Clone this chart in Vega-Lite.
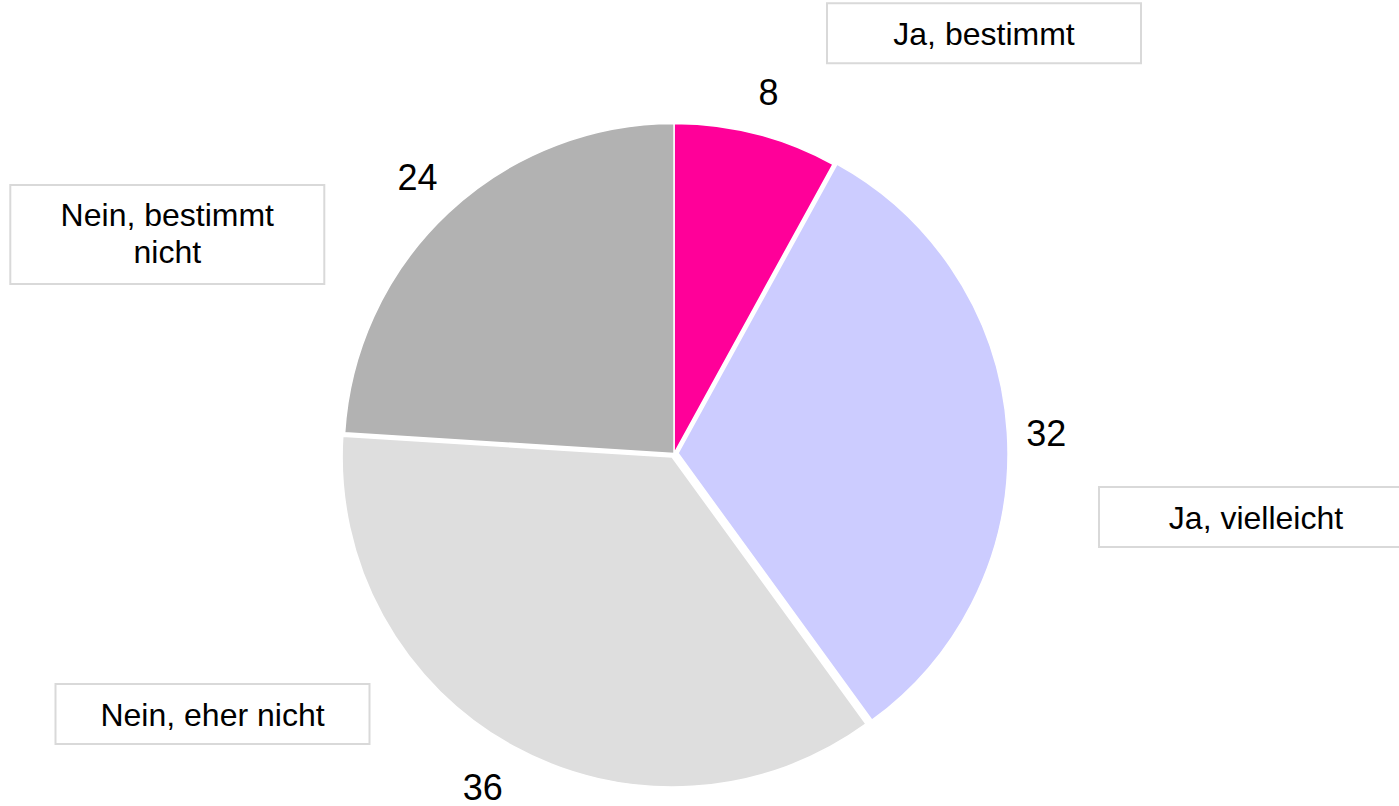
{
  "$schema": "https://vega.github.io/schema/vega-lite/v6.json",
  "width": 1399,
  "height": 806,
  "autosize": {"type": "none"},
  "padding": 0,
  "background": "white",
  "config": {"view": {"stroke": null}, "font": "Liberation Sans"},
  "data": {
    "values": [
      {"Nr": 1, "Antwort": "Ja, bestimmt", "Anteil": 8, "Beschriftung": "Ja, bestimmt"},
      {"Nr": 2, "Antwort": "Ja, vielleicht", "Anteil": 32, "Beschriftung": "Ja, vielleicht"},
      {"Nr": 3, "Antwort": "Nein, eher nicht", "Anteil": 36, "Beschriftung": "Nein, eher nicht"},
      {"Nr": 4, "Antwort": "Nein, bestimmt nicht", "Anteil": 24, "Beschriftung": "Nein, bestimmt\nnicht"}
    ]
  },
  "layer": [
    {
      "transform": [
        {"stack": "Anteil", "groupby": [], "sort": [{"field": "Nr", "order": "ascending"}], "as": ["t0", "t1"]}
      ],
      "encoding": {
        "theta": {"field": "t0", "type": "quantitative", "stack": null, "scale": {"domain": [0, 100]}},
        "theta2": {"field": "t1"},
        "color": {
          "field": "Antwort",
          "type": "nominal",
          "scale": {
            "domain": ["Ja, bestimmt", "Ja, vielleicht", "Nein, eher nicht", "Nein, bestimmt nicht"],
            "range": ["#FF0099", "#CCCCFF", "#DEDEDE", "#B2B2B2"]
          },
          "legend": null
        }
      },
      "layer": [
        {
          "transform": [{"filter": "datum.Nr == 1 || datum.Nr == 4"}],
          "mark": {"type": "arc", "outerRadius": 330, "stroke": "white", "strokeWidth": 1.5, "xOffset": -25.5, "yOffset": 50.5}
        },
        {
          "transform": [{"filter": "datum.Nr == 2"}],
          "mark": {"type": "arc", "outerRadius": 330, "stroke": "white", "strokeWidth": 1.5, "xOffset": -21.5, "yOffset": 50.25}
        },
        {
          "transform": [{"filter": "datum.Nr == 3"}],
          "mark": {"type": "arc", "outerRadius": 330, "stroke": "white", "strokeWidth": 1.5, "xOffset": -27.4, "yOffset": 54}
        }
      ]
    },
    {
      "encoding": {
        "theta": {"field": "Anteil", "type": "quantitative", "stack": true, "scale": {"domain": [0, 100]}},
        "order": {"field": "Nr", "type": "quantitative", "sort": "ascending"},
        "detail": {"field": "Antwort", "type": "nominal"}
      },
      "layer": [
        {
          "mark": {"type": "text", "radius": 376, "fontSize": 36, "color": "black", "xOffset": -25.5, "yOffset": 50.5, "dx": 1, "dy": 5},
          "encoding": {"text": {"condition": {"test": "datum.Nr == 1", "field": "Anteil", "type": "quantitative"}, "value": ""}}
        },
        {
          "mark": {"type": "text", "radius": 376, "fontSize": 36, "color": "black", "xOffset": -25.5, "yOffset": 50.5, "dx": -3, "dy": 5},
          "encoding": {"text": {"condition": {"test": "datum.Nr == 2", "field": "Anteil", "type": "quantitative"}, "value": ""}}
        },
        {
          "mark": {"type": "text", "radius": 376, "fontSize": 36, "color": "black", "xOffset": -25.5, "yOffset": 50.5, "dx": -10, "dy": 6},
          "encoding": {"text": {"condition": {"test": "datum.Nr == 3", "field": "Anteil", "type": "quantitative"}, "value": ""}}
        },
        {
          "mark": {"type": "text", "radius": 376, "fontSize": 36, "color": "black", "xOffset": -25.5, "yOffset": 50.5, "dx": 1, "dy": 0},
          "encoding": {"text": {"condition": {"test": "datum.Nr == 4", "field": "Anteil", "type": "quantitative"}, "value": ""}}
        }
      ]
    },
    {
      "transform": [{"filter": "datum.Nr == 1"}],
      "layer": [
        {
          "mark": {"type": "point", "shape": "M-1,-0.191L1,-0.191L1,0.191L-1,0.191Z", "size": 98596, "filled": true, "fill": "white", "stroke": "#D9D9D9", "strokeWidth": 2, "opacity": 1, "xOffset": 284.5, "yOffset": -369.7},
          "encoding": {}
        },
        {
          "mark": {"type": "text", "fontSize": 32, "color": "black", "xOffset": 284.5, "yOffset": -368.2},
          "encoding": {"text": {"field": "Beschriftung", "type": "nominal"}}
        }
      ]
    },
    {
      "transform": [{"filter": "datum.Nr == 2"}],
      "layer": [
        {
          "mark": {"type": "point", "shape": "M-1,-0.191L1,-0.191L1,0.191L-1,0.191Z", "size": 98596, "filled": true, "fill": "white", "stroke": "#D9D9D9", "strokeWidth": 2, "opacity": 1, "xOffset": 556.5, "yOffset": 114},
          "encoding": {}
        },
        {
          "mark": {"type": "text", "fontSize": 32, "color": "black", "xOffset": 556.5, "yOffset": 115.5},
          "encoding": {"text": {"field": "Beschriftung", "type": "nominal"}}
        }
      ]
    },
    {
      "transform": [{"filter": "datum.Nr == 3"}],
      "layer": [
        {
          "mark": {"type": "point", "shape": "M-1,-0.191L1,-0.191L1,0.191L-1,0.191Z", "size": 98596, "filled": true, "fill": "white", "stroke": "#D9D9D9", "strokeWidth": 2, "opacity": 1, "xOffset": -487, "yOffset": 311},
          "encoding": {}
        },
        {
          "mark": {"type": "text", "fontSize": 32, "color": "black", "xOffset": -487, "yOffset": 312.5},
          "encoding": {"text": {"field": "Beschriftung", "type": "nominal"}}
        }
      ]
    },
    {
      "transform": [{"filter": "datum.Nr == 4"}],
      "layer": [
        {
          "mark": {"type": "point", "shape": "M-1,-0.3153L1,-0.3153L1,0.3153L-1,0.3153Z", "size": 98596, "filled": true, "fill": "white", "stroke": "#D9D9D9", "strokeWidth": 2, "opacity": 1, "xOffset": -532.2, "yOffset": -168.5},
          "encoding": {}
        },
        {
          "mark": {"type": "text", "fontSize": 32, "color": "black", "lineBreak": "\n", "lineHeight": 37, "xOffset": -532.2, "yOffset": -187.5},
          "encoding": {"text": {"field": "Beschriftung", "type": "nominal"}}
        }
      ]
    }
  ]
}
